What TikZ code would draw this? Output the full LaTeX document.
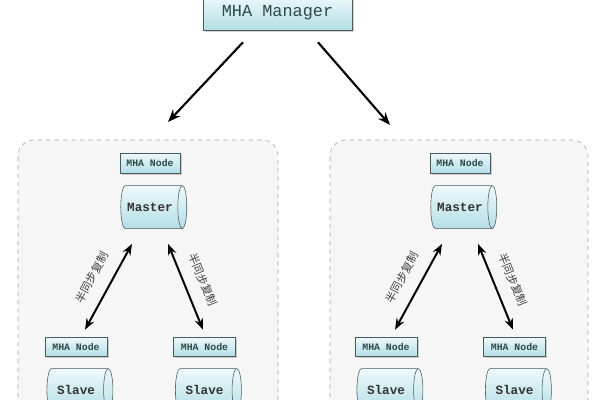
\documentclass[tikz,border=0pt]{standalone}
\usepackage{fontspec}
\setmonofont{Liberation Mono}
\newfontfamily\cjk{Noto Sans CJK SC}
\usepackage{tikz}
\usetikzlibrary{shapes.geometric, arrows.meta, positioning, calc, shadows}
\usepackage{xcolor}
\definecolor{boxline}{HTML}{4A5A5E}
\definecolor{boxtext}{HTML}{2C4A48}
\definecolor{cyanlo}{HTML}{B4DEE6}
\definecolor{cyanhi}{HTML}{EEF9FA}
\definecolor{grouplo}{HTML}{F6F6F6}
\tikzset{
  mhabox/.style = {rectangle, draw=boxline, top color=cyanhi, bottom color=cyanlo, text=boxtext, font=\ttfamily\bfseries, drop shadow={shadow xshift=1.2pt, shadow yshift=-1.2pt, opacity=0.35}},
  dbcyl/.style = {cylinder, draw=boxline, aspect=0.5, top color=cyanhi, bottom color=cyanlo, text=black!80, font=\ttfamily\bfseries\small, minimum height=1.65cm, minimum width=1.075cm},
  group/.style = {draw=gray!70, dashed, fill=grouplo, rounded corners=0.4cm},
  feed/.style = {-{Stealth[length=9pt,width=7pt]}, line width=1.5pt},
  sync/.style = {{Stealth[length=8pt,width=6pt]}-{Stealth[length=8pt,width=6pt]}, line width=1.4pt},
  synclabel/.style = {font=\cjk\footnotesize, text=black!75, sloped, above=0.2cm}
}

\begin{document}
\begin{tikzpicture}[x=0.025cm, y=0.025cm, node distance=0.3cm]
\useasboundingbox (0,0) rectangle (600,400);
\clip (0,0) rectangle (600,400);
\fill[white] (0,0) rectangle (600,400);

% the two node groups
\draw[group] (18,-30) rectangle (278,260);
\draw[group] (330,-30) rectangle (588,260);

\node[mhabox, minimum width=3.725cm, minimum height=0.875cm, font=\ttfamily\large] (manager) at (277.5,387.5) {MHA Manager};

% left group
\node[mhabox, minimum width=1.5cm, minimum height=0.5cm, font=\ttfamily\bfseries\scriptsize] (mnodeL) at (150,237) {MHA Node};
\node[dbcyl, below=of mnodeL] (masterL) {Master};
\node[mhabox, minimum width=1.55cm, minimum height=0.475cm, font=\ttfamily\bfseries\scriptsize] (snodeLa) at (76,53.5) {MHA Node};
\node[dbcyl, below=of snodeLa] (slaveLa) {Slave};
\node[mhabox, minimum width=1.55cm, minimum height=0.475cm, font=\ttfamily\bfseries\scriptsize] (snodeLb) at (204.5,53.5) {MHA Node};
\node[dbcyl, below=of snodeLb] (slaveLb) {Slave};

% right group
\node[mhabox, minimum width=1.5cm, minimum height=0.5cm, font=\ttfamily\bfseries\scriptsize] (mnodeR) at (460,237) {MHA Node};
\node[dbcyl, below=of mnodeR] (masterR) {Master};
\node[mhabox, minimum width=1.55cm, minimum height=0.475cm, font=\ttfamily\bfseries\scriptsize] (snodeRa) at (386,53.5) {MHA Node};
\node[dbcyl, below=of snodeRa] (slaveRa) {Slave};
\node[mhabox, minimum width=1.55cm, minimum height=0.475cm, font=\ttfamily\bfseries\scriptsize] (snodeRb) at (514.5,53.5) {MHA Node};
\node[dbcyl, below=of snodeRb] (slaveRb) {Slave};

\coordinate (inL) at (168,278);
\coordinate (inR) at (390,275);

\draw[feed] ($(manager.south)+(-34.5,-12)$) -- (inL);
\draw[feed] ($(manager.south)+(40.5,-12)$) -- (inR);

\draw[sync] ($(masterL.south)+(-18,-15)$) -- node[synclabel] {半同步复制} ($(snodeLa.north)+(9,7)$);
\draw[sync] ($(masterL.south)+(18,-15)$) -- node[synclabel] {半同步复制} ($(snodeLb.north)+(-1.5,7)$);
\draw[sync] ($(masterR.south)+(-18,-15)$) -- node[synclabel] {半同步复制} ($(snodeRa.north)+(9,7)$);
\draw[sync] ($(masterR.south)+(18,-15)$) -- node[synclabel] {半同步复制} ($(snodeRb.north)+(-1.5,7)$);
\end{tikzpicture}
\end{document}
